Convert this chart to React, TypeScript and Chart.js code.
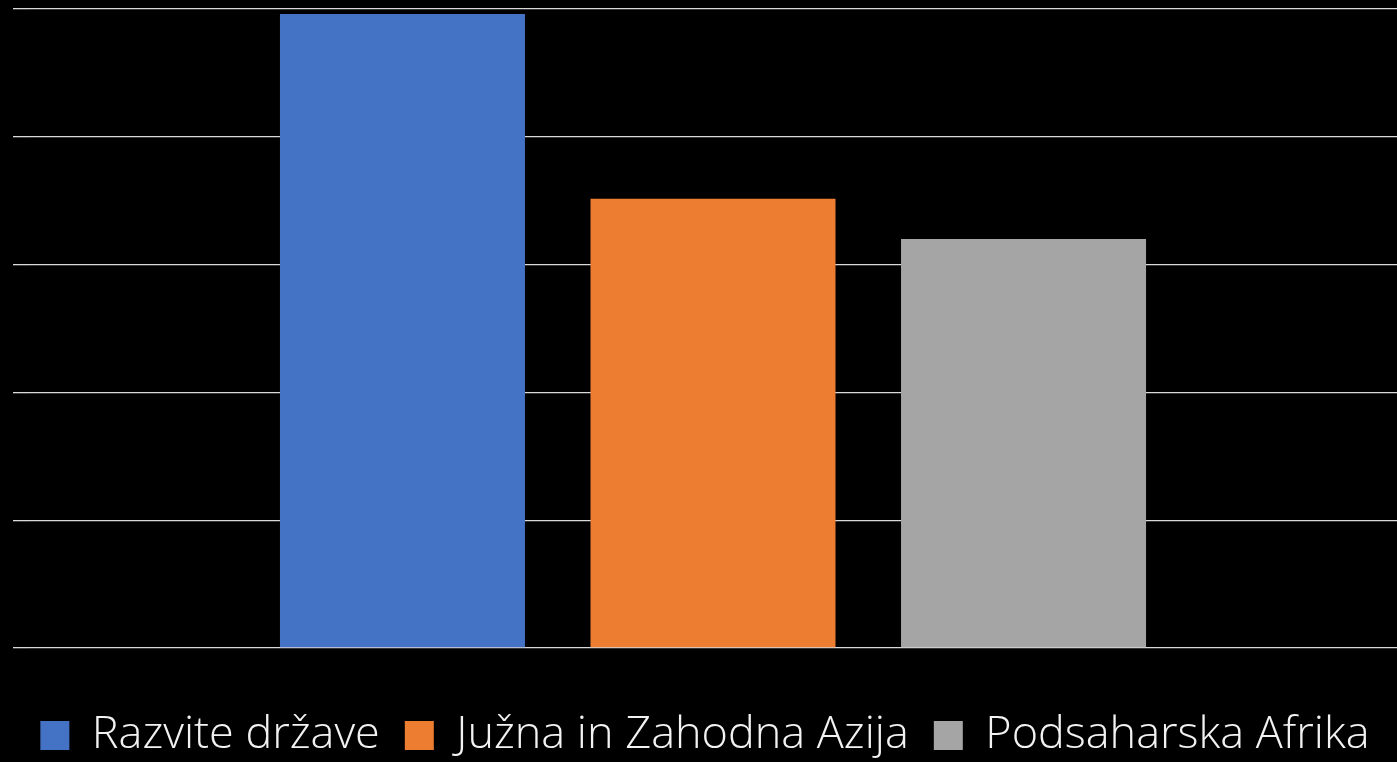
import React, { useEffect, useRef } from "react";
import { Chart, registerables } from "chart.js";

Chart.register(...registerables);

const categories = [""];
const seriesNames = ["Razvite države", "Južna in Zahodna Azija", "Podsaharska Afrika"];
const seriesValues = [[99.2], [70.3], [64]];
const seriesColors = ["#4472C4", "#ED7D31", "#A5A5A5"];
const yTicks = [0, 20, 40, 60, 80, 100];

export default function App() {
  const ref = useRef<HTMLCanvasElement | null>(null);

  useEffect(() => {
    document.body.style.margin = "0";
    document.body.style.background = "#000";
    const canvas = ref.current;
    if (!canvas) return;
    const chart = new Chart(canvas, {
      type: "bar",
      data: {
        labels: categories,
        datasets: seriesNames.map((name, i) => ({
          label: name,
          data: seriesValues[i],
          backgroundColor: seriesColors[i],
          borderWidth: 0,
          categoryPercentage: 0.681,
          barPercentage: 0.789,
        })),
      },
      options: {
        responsive: false,
        animation: false,
        maintainAspectRatio: false,
        layout: { padding: { left: 13, top: 9, right: 0, bottom: 0 } },
        scales: {
          x: {
            display: true,
            ticks: { display: false },
            grid: { display: false },
            border: { display: false },
            title: {
              display: true,
              text: "",
              font: { size: 1, lineHeight: 1 },
              padding: { top: 0, bottom: 31 },
            },
          },
          y: {
            min: yTicks[0],
            max: yTicks[yTicks.length - 1],
            afterBuildTicks: (axis: any) => {
              axis.ticks = yTicks.map((v) => ({ value: v }));
            },
            ticks: { display: false },
            border: { display: false },
            grid: {
              color: "#d9d9d9",
              lineWidth: 1.3,
              drawTicks: true,
              tickLength: 16,
            },
          },
        },
        plugins: {
          tooltip: { enabled: false },
          legend: {
            position: "bottom",
            labels: {
              color: "#f2f2f2",
              boxWidth: 29,
              boxHeight: 29,
              padding: 25,
              font: { family: "'Open Sans'", size: 45, weight: "300" as any },
            },
          },
        },
      },
    });
    return () => chart.destroy();
  }, []);

  return (
    <div style={{ position: "fixed", left: 0, top: 0, width: 1397, height: 762, background: "#000", overflow: "hidden" }}>
      <canvas ref={ref} width={1397} height={768} style={{ display: "block" }} />
    </div>
  );
}
